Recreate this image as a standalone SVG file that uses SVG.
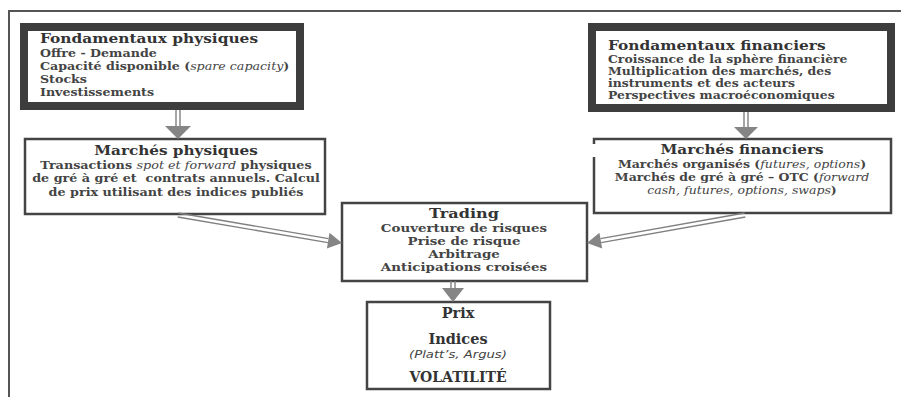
<svg xmlns="http://www.w3.org/2000/svg" width="901" height="397" viewBox="0 0 901 397">
<style>
.frame{fill:none;stroke:#555;stroke-width:2}
.thick{fill:#fff;stroke:#3d3d3d;stroke-width:8}
.box{fill:#fff;stroke:#444;stroke-width:2.5}
.t{font-family:"DejaVu Serif","Liberation Serif",serif;font-weight:bold;fill:#333}
.h{font-size:13.5px}
.b{font-size:11px;fill:#444}
.i{font-style:italic;font-weight:normal}
.c{text-anchor:middle}
.s{font-family:"DejaVu Sans","Liberation Sans",sans-serif}
.al{stroke:#808080;stroke-width:1.4;fill:none}
.ah{fill:#858585;stroke:none}
</style>
<rect width="901" height="397" fill="#fff"/>
<path class="frame" d="M9 397 V11 H901"/>

<g id="fond-phys">
<rect class="thick" x="24" y="27" width="276" height="79"/>
<g transform="matrix(1.14,0,0,1,-5.6,0)">
<text class="t h" x="40" y="43.5">Fondamentaux physiques</text>
</g>
<g transform="matrix(1.15,0,0,1,-6,0)">
<text class="t b" x="40" y="57">Offre - Demande</text>
<text class="t b" x="40" y="70">Capacité disponible (<tspan class="i">spare capacity</tspan>)</text>
<text class="t b" x="40" y="83">Stocks</text>
<text class="t b" x="40" y="96">Investissements</text>
</g>
</g>

<g id="fond-fin">
<rect class="thick" x="592" y="27" width="299" height="81"/>
<g transform="matrix(1.14,0,0,1,-85.12,0)">
<text class="t h" x="608" y="50.5">Fondamentaux financiers</text>
</g>
<g transform="matrix(1.22,0,0,1,-133.76,0)" style="font-size:10.2px">
<text class="t" x="608" y="63.5" style="fill:#444">Croissance de la sphère financière</text>
<text class="t" x="608" y="75.5" style="fill:#444">Multiplication des marchés, des</text>
<text class="t" x="608" y="87.5" style="fill:#444">instruments et des acteurs</text>
<text class="t" x="608" y="99.5" style="fill:#444">Perspectives macroéconomiques</text>
</g>
</g>

<g id="marches-phys">
<rect class="box" x="25" y="139" width="300" height="75"/>
<g transform="matrix(1.13,0,0,1,-22.88,0)">
<text class="t h c" x="176" y="155.5">Marchés physiques</text>
</g>
<g transform="matrix(1.16,0,0,1,-28.16,0)">
<text class="t b c" x="176" y="169">Transactions <tspan class="i">spot et forward</tspan> physiques</text>
<text class="t b c" x="176" y="182.5" style="white-space:pre">de gré à gré et  contrats annuels. Calcul</text>
<text class="t b c" x="176" y="196">de prix utilisant des indices publiés</text>
</g>
</g>

<g id="marches-fin">
<path class="box" d="M594 144 V139 H891 V213 H594 V157"/>
<g transform="matrix(1.13,0,0,1,-96.46,0)">
<text class="t h c" x="742" y="154.5">Marchés financiers</text>
</g>
<g transform="matrix(1.19,0,0,1,-140.98,0)" style="font-size:10.5px">
<text class="t c" x="742" y="168" style="fill:#444">Marchés organisés (<tspan class="i">futures, options</tspan>)</text>
<text class="t c" x="742" y="181" style="fill:#444">Marchés de gré à gré – OTC (<tspan class="i">forward</tspan></text>
<text class="t c" x="742" y="194" style="fill:#444"><tspan class="i">cash, futures, options, swaps</tspan>)</text>
</g>
</g>

<g id="trading">
<rect class="box" x="342" y="203" width="245" height="78"/>
<g transform="matrix(1.19,0,0,1,-88.16,0)">
<text class="t h c" x="464" y="218">Trading</text>
</g>
<g transform="matrix(1.22,0,0,1,-102.08,0)">
<text class="t b c" x="464" y="232.5">Couverture de risques</text>
<text class="t b c" x="464" y="245.5">Prise de risque</text>
<text class="t b c" x="464" y="258.5">Arbitrage</text>
<text class="t b c" x="464" y="271.5">Anticipations croisées</text>
</g>
</g>

<g id="prix">
<rect class="box" x="367" y="302" width="183" height="87"/>
<text class="t c" x="458" y="318" style="font-size:14.5px">Prix</text>
<text class="t c" x="458" y="344" style="font-size:14.5px">Indices</text>
<g transform="matrix(1.2,0,0,1,-91.6,0)">
<text class="t c s i" x="458" y="358" style="font-size:11px;fill:#444">(<tspan style="font-style:italic">Platt’s, Argus</tspan>)</text>
</g>
<text class="t c" x="458" y="382" style="font-size:14px">VOLATILITÉ</text>
</g>

<g id="connectors">
<path class="al" d="M176 110 V127 M180 110 V127"/>
<polygon class="ah" points="165,126 191,126 178,139"/>
<path class="al" d="M744 112 V128 M748 112 V128"/>
<polygon class="ah" points="734,127 758,127 746,139"/>
<path class="al" d="M451 281 V289 M455 281 V289"/>
<polygon class="ah" points="442,288 464,288 453,302"/>
<path class="al" d="M177.7 217 L327.9 242.6 M178.3 213 L328.5 238.6"/>
<polygon class="ah" points="326.9,248.5 329.5,232.8 342,243"/>
<path class="al" d="M745.35 217 L601.15 242.6 M744.65 213 L600.45 238.6"/>
<polygon class="ah" points="602.2,248.4 599.4,232.7 587,243"/>
</g>
</svg>
